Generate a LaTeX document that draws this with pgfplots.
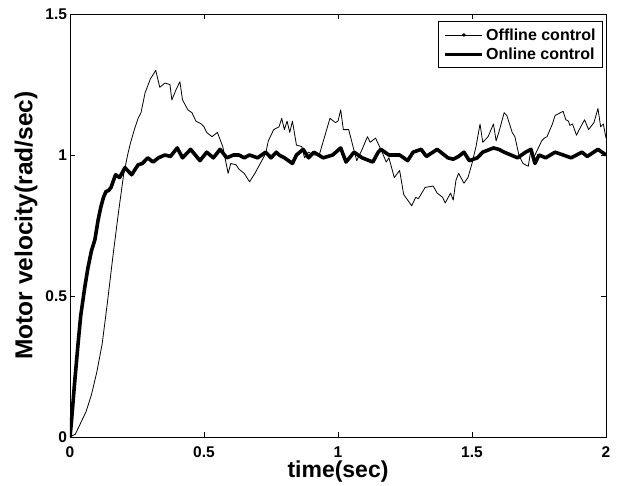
\documentclass[border=0pt]{standalone}
\usepackage{fontspec}
\setmainfont{Liberation Sans}
\usepackage{pgfplots}
\pgfplotsset{compat=1.18}

\begin{document}
\begin{tikzpicture}
\begin{axis}[
  scale only axis, width=536bp, height=423bp,
  xmin=0, xmax=2, ymin=0, ymax=1.5,
  xtick={0,0.5,1,1.5,2}, ytick={0,0.5,1,1.5},
  tick align=inside, major tick length=5bp,
  axis line style={line width=0.9bp}, every tick/.style={black, line width=0.7bp},
  /pgf/number format/assume math mode=true,
  tick label style={font=\fontsize{15.5bp}{17bp}\selectfont\bfseries},
  xticklabel style={anchor=base, yshift=-20.5bp},
  yticklabel style={xshift=0.5bp},
  xlabel={time(sec)}, ylabel={Motor velocity(rad/sec)},
  xlabel style={font=\fontsize{23bp}{26bp}\selectfont\bfseries, at={(axis description cs:0.5,-0.0827)}, anchor=center},
  ylabel style={font=\fontsize{24.5bp}{28bp}\selectfont\bfseries, at={(axis description cs:-0.082,0.5)}, anchor=center},
  legend cell align=left,
  legend style={at={(axis description cs:0.9944,0.9835)}, anchor=north east,
    font=\fontsize{16bp}{18bp}\selectfont\bfseries, draw=black, line width=0.9bp,
    inner xsep=5bp, inner ysep=5.5bp, row sep=3.3bp,
    nodes={inner xsep=2bp, inner ysep=1.5bp}},
]
\coordinate (sw) at (rel axis cs:0,0);
\coordinate (ne) at (rel axis cs:1,1);

\addplot[black, line width=0.8bp, line join=round,
  legend image code/.code={\draw[black, line width=0.8bp] (0bp,0bp) -- (37bp,0bp); \fill[black] (18.5bp,0bp) circle (1.4bp);}]
coordinates {
(0,0)(0.02,0.01)(0.04,0.05)(0.06,0.09)(0.08,0.15)(0.10,0.23)(0.12,0.33)(0.14,0.48)
(0.16,0.64)(0.18,0.79)(0.20,0.93)(0.215,1.00)(0.225,1.04)
(0.24,1.09)(0.254,1.13)(0.265,1.15)(0.28,1.22)(0.30,1.27)(0.32,1.30)(0.335,1.24)
(0.354,1.255)(0.373,1.25)(0.38,1.195)(0.395,1.23)(0.41,1.26)(0.42,1.195)(0.44,1.16)
(0.455,1.15)(0.47,1.12)(0.49,1.11)(0.50,1.10)(0.51,1.08)(0.53,1.065)(0.55,1.08)
(0.57,1.03)(0.59,0.935)(0.60,0.97)(0.62,0.965)(0.63,0.95)(0.65,0.935)(0.67,0.905)
(0.69,0.935)(0.71,0.97)(0.73,1.005)(0.74,1.05)(0.76,1.09)(0.78,1.10)(0.79,1.13)
(0.80,1.09)(0.81,1.12)(0.82,1.08)(0.83,1.12)(0.845,1.035)(0.865,1.03)(0.875,0.99)
(0.89,1.01)(0.91,1.00)(0.93,1.00)(0.95,1.065)(0.97,1.13)(0.99,1.115)(1.00,1.12)
(1.01,1.16)(1.02,1.09)(1.04,1.09)(1.056,1.03)(1.07,0.98)(1.09,1.02)(1.11,1.065)
(1.12,1.045)(1.14,1.06)(1.16,1.02)(1.18,0.975)(1.19,0.99)(1.21,0.92)(1.23,0.945)
(1.245,0.86)(1.26,0.84)(1.275,0.82)(1.29,0.85)(1.30,0.845)(1.325,0.885)(1.355,0.89)
(1.37,0.865)(1.39,0.85)(1.40,0.83)(1.42,0.865)(1.43,0.84)(1.44,0.91)(1.45,0.935)
(1.47,0.90)(1.485,0.92)(1.50,0.97)(1.515,1.03)(1.53,1.11)(1.54,1.045)(1.56,1.065)
(1.58,1.11)(1.59,1.05)(1.60,1.08)(1.62,1.15)(1.63,1.14)(1.65,1.08)(1.66,1.065)
(1.675,1.00)(1.69,0.97)(1.71,0.96)(1.72,1.02)(1.73,0.99)(1.745,1.02)(1.76,1.05)
(1.77,1.06)(1.78,1.065)(1.80,1.11)(1.81,1.14)(1.83,1.15)(1.84,1.155)(1.85,1.125)
(1.86,1.12)(1.865,1.105)(1.875,1.11)(1.89,1.07)(1.90,1.09)(1.92,1.125)(1.935,1.09)
(1.955,1.115)(1.97,1.165)(1.98,1.10)(1.99,1.11)(2.00,1.06)
};
\addlegendentry{Offline control}

\addplot[black, line width=3.6bp, line join=round,
  legend image code/.code={\draw[black, line width=3.6bp] (0bp,0bp) -- (37bp,0bp);}]
coordinates {
(0,0)(0.005,0.05)(0.017,0.19)(0.03,0.33)(0.04,0.43)(0.055,0.53)(0.067,0.60)(0.08,0.66)
(0.093,0.70)(0.105,0.77)(0.115,0.815)(0.125,0.85)
(0.134,0.87)(0.145,0.875)(0.153,0.885)(0.17,0.93)(0.185,0.92)(0.205,0.955)(0.23,0.93)(0.254,0.965)
(0.27,0.97)(0.29,0.99)(0.31,0.975)(0.33,0.99)(0.354,1.0)(0.375,0.995)(0.40,1.025)
(0.42,0.99)(0.45,1.02)(0.485,0.98)(0.51,1.01)(0.535,0.99)(0.56,1.02)(0.585,0.99)
(0.61,1.00)(0.63,1.00)(0.65,0.99)(0.67,1.00)(0.70,0.99)(0.73,1.01)(0.75,0.99)
(0.77,1.01)(0.78,1.00)(0.80,0.99)(0.83,0.97)(0.845,1.00)(0.87,1.02)(0.89,0.99)
(0.91,1.01)(0.945,0.99)(0.98,1.00)(1.01,1.025)(1.03,0.975)(1.06,1.01)(1.09,0.99)
(1.13,0.975)(1.15,1.01)(1.16,1.02)(1.19,1.00)(1.23,1.00)(1.26,0.98)(1.28,1.01)
(1.31,1.02)(1.33,0.995)(1.37,1.02)(1.41,0.99)(1.43,0.985)(1.45,0.995)(1.47,1.01)
(1.49,0.98)(1.52,0.99)(1.54,1.01)(1.58,1.025)(1.60,1.02)(1.62,1.01)(1.67,0.99)
(1.70,1.01)(1.72,1.02)(1.735,0.97)(1.75,1.00)(1.775,0.99)(1.81,1.01)(1.84,1.00)
(1.87,0.99)(1.91,1.01)(1.93,0.995)(1.97,1.02)(2.0,1.00)
};
\addlegendentry{Online control}
\end{axis}
\pgfresetboundingbox
\path ([xshift=-70bp,yshift=-49bp]sw) rectangle ([xshift=15bp,yshift=14bp]ne);
\end{tikzpicture}
\end{document}
